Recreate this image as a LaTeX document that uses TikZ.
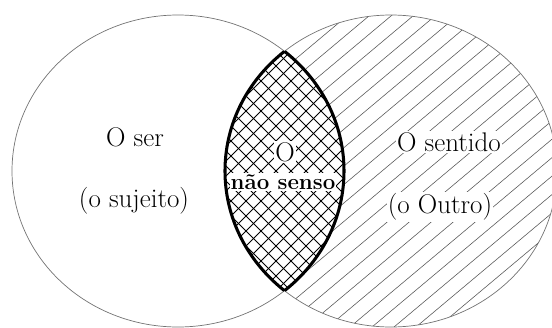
\documentclass[tikz,border=0pt]{standalone}
\usepackage{fontspec}

\begin{document}
\begin{tikzpicture}[x=0.03cm, y=-0.03cm,
  word/.style={font=\fontsize{23}{25}\selectfont, inner sep=1pt},
  hatch/.style={black!65, line width=0.5pt},
  cross/.style={black, line width=0.8pt},
  rim/.style={black!55, line width=0.6pt}]
\useasboundingbox (0,0) rectangle (552,327);
\coordinate (ser) at (178,171);
\coordinate (outro) at (391,171);
% hatching of the right set
\begin{scope}
  \clip (outro) ellipse [x radius=166, y radius=156];
  \foreach \c in {-420,-398,...,560}
    \draw[hatch] (\c,327) -- (\c+390,0);
\end{scope}
% the overlap
\begin{scope}
  \clip (ser) ellipse [x radius=166, y radius=156];
  \clip (outro) ellipse [x radius=166, y radius=156];
  \fill[white] (0,0) rectangle (552,327);
  \foreach \c in {-120,-105,...,360} {
    \draw[cross] (\c,327) -- (\c+327,0);
    \draw[cross] (\c,0) -- (\c+327,327);
  }
\end{scope}
\draw[rim] (ser) ellipse [x radius=166, y radius=156];
\draw[rim] (outro) ellipse [x radius=166, y radius=156];
% thick rim of the overlap
\begin{scope}
  \clip (ser) ellipse [x radius=166, y radius=156];
  \draw[line width=2.6pt] (outro) ellipse [x radius=166, y radius=156];
\end{scope}
\begin{scope}
  \clip (outro) ellipse [x radius=166, y radius=156];
  \draw[line width=2.6pt] (ser) ellipse [x radius=166, y radius=156];
\end{scope}
\node[word] (oser) at (135,137) {O ser};
\node[word] (sujeito) at (134,201) {(o sujeito)};
\node[word, fill=white] (sentido) at (449,142) {O sentido};
\node[word, fill=white] (outrotxt) at (440,207) {(o Outro)};
\node[word, fill=white] (o) at (285,152) {O};
\node[word, fill=white, font=\fontsize{19}{21}\selectfont\bfseries] (naosenso) at (283,182) {não senso};
\end{tikzpicture}
\end{document}
